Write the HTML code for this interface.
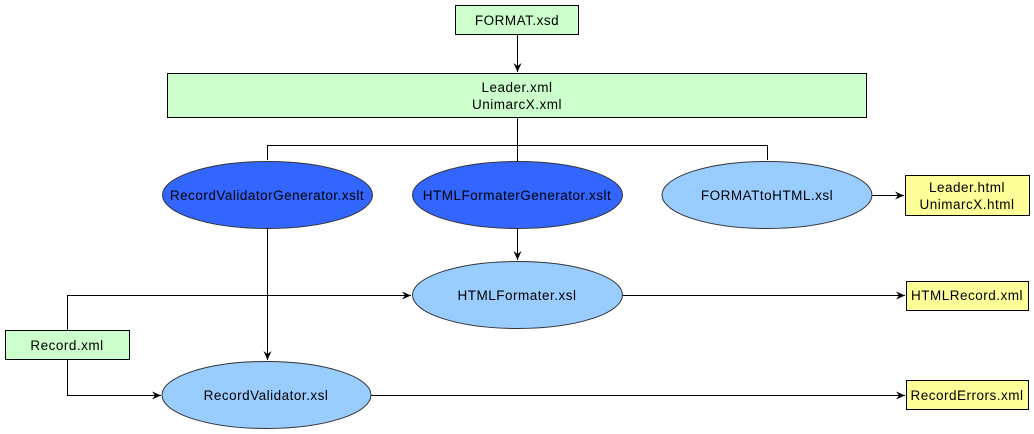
<!DOCTYPE html>
<html><head><meta charset="utf-8"><style>
html,body{margin:0;padding:0;background:#fff;width:1034px;height:434px;overflow:hidden}
text{font-family:"Liberation Sans",Arial,sans-serif;font-size:13.5px;letter-spacing:0.5px;fill:#000}
</style></head><body>
<svg width="1034" height="434" viewBox="0 0 1034 434" xmlns="http://www.w3.org/2000/svg">
<defs><marker id="a" markerWidth="10" markerHeight="8" refX="9" refY="4" orient="auto" markerUnits="userSpaceOnUse"><path d="M0,0 L9,4 L0,8 L3,4 z" fill="#000"/></marker></defs>
<g stroke="#000" stroke-width="1" fill="none">
<line x1="517.5" y1="35" x2="517.5" y2="72" marker-end="url(#a)"/>
<polyline points="517.5,117 517.5,145.5"/>
<polyline points="267.5,160 267.5,145.5 767.5,145.5 767.5,160"/>
<line x1="517.5" y1="145" x2="517.5" y2="161"/>
<line x1="872" y1="195.5" x2="904" y2="195.5" marker-end="url(#a)"/>
<line x1="517.5" y1="228" x2="517.5" y2="260" marker-end="url(#a)"/>
<line x1="622" y1="295.5" x2="905" y2="295.5" marker-end="url(#a)"/>
<polyline points="67.5,330 67.5,295.5 411,295.5" marker-end="url(#a)"/>
<polyline points="67.5,360 67.5,395.5 161,395.5" marker-end="url(#a)"/>
<line x1="267.5" y1="228" x2="267.5" y2="360" marker-end="url(#a)"/>
<line x1="371" y1="395.5" x2="905" y2="395.5" marker-end="url(#a)"/>
</g>
<g stroke="#000" stroke-width="1">
<rect x="455.5" y="5.5" width="123" height="29" fill="#ccffcc"/>
<rect x="167.5" y="73.5" width="699" height="44" fill="#ccffcc"/>
<rect x="5.5" y="330.5" width="124" height="29" fill="#ccffcc"/>
<rect x="905.5" y="175.5" width="124" height="40" fill="#ffff99"/>
<rect x="906.5" y="281.5" width="122" height="29" fill="#ffff99"/>
<rect x="906.5" y="380.5" width="122" height="29" fill="#ffff99"/>
</g>
<g stroke="#333" stroke-width="1">
<ellipse cx="267.5" cy="195" rx="105" ry="33.5" fill="#3366ff"/>
<ellipse cx="517.5" cy="195" rx="105" ry="33.5" fill="#3366ff"/>
<ellipse cx="767" cy="195" rx="105" ry="33.5" fill="#99ccff"/>
<ellipse cx="517.5" cy="295" rx="105" ry="33.5" fill="#99ccff"/>
<ellipse cx="266.5" cy="395" rx="104.5" ry="33.5" fill="#99ccff"/>
</g>
<g text-anchor="middle">
<text x="517" y="25">FORMAT.xsd</text>
<text x="517" y="92">Leader.xml</text>
<text x="517" y="109">UnimarcX.xml</text>
<text x="267" y="200">RecordValidatorGenerator.xslt</text>
<text x="517" y="200">HTMLFormaterGenerator.xslt</text>
<text x="767" y="200">FORMATtoHTML.xsl</text>
<text x="967" y="192">Leader.html</text>
<text x="967" y="209">UnimarcX.html</text>
<text x="517" y="300">HTMLFormater.xsl</text>
<text x="967" y="300">HTMLRecord.xml</text>
<text x="67" y="350">Record.xml</text>
<text x="266" y="400">RecordValidator.xsl</text>
<text x="967" y="400">RecordErrors.xml</text>
</g>
</svg>
</body></html>
